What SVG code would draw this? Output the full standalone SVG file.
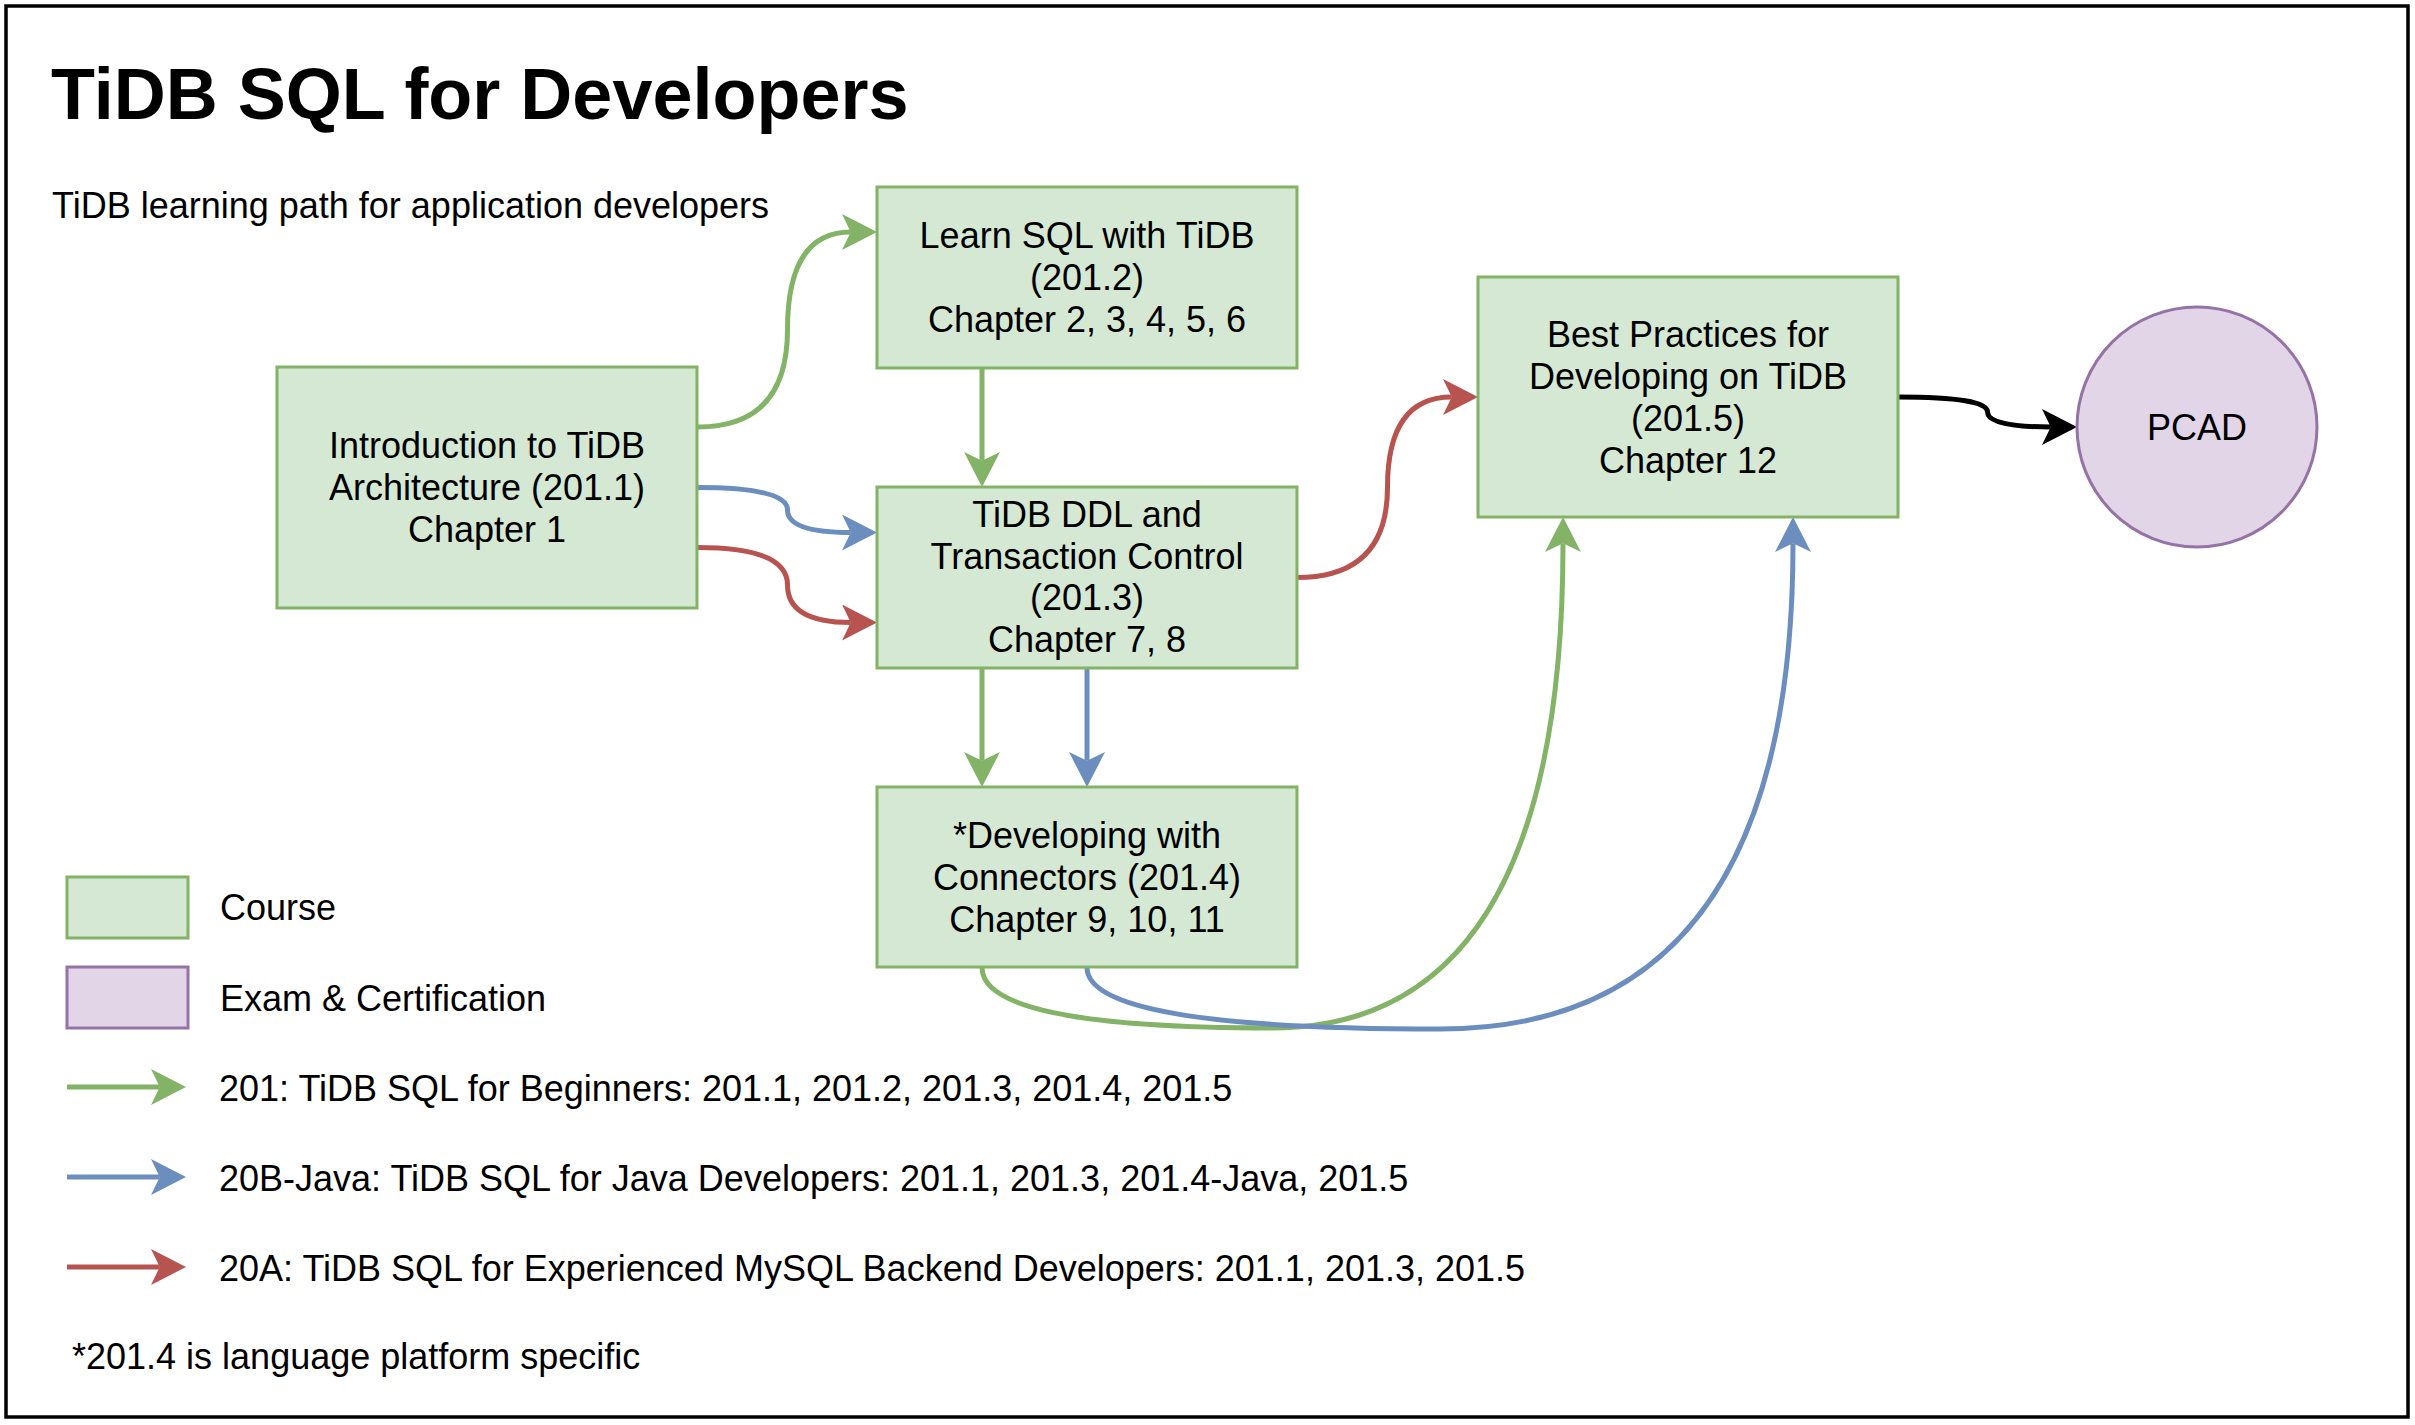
<svg xmlns="http://www.w3.org/2000/svg" width="2415" height="1425" viewBox="0 0 2415 1425">
  <style>
    text { font-family: "Liberation Sans", Arial, Helvetica, sans-serif; fill: #000; }
    .title { font-size: 72px; font-weight: bold; }
    .t36 { font-size: 36px; }
    .lbl { font-size: 36px; text-anchor: middle; }
    .course { fill: #d5e8d4; stroke: #82b366; stroke-width: 3; }
    .exam { fill: #e1d5e7; stroke: #9673a6; stroke-width: 3; }
    .edge { fill: none; stroke-width: 5; }
    .g { stroke: #82b366; }
    .b { stroke: #6c8ebf; }
    .r { stroke: #b85450; }
    .k { stroke: #000000; }
  </style>
  <defs>
    <marker id="ag" markerUnits="userSpaceOnUse" markerWidth="36" markerHeight="36" viewBox="0 0 35 36" refX="8.75" refY="18" orient="auto">
      <path d="M35,18 L0,0 L8.75,18 L0,36 Z" fill="#82b366"/>
    </marker>
    <marker id="ab" markerUnits="userSpaceOnUse" markerWidth="36" markerHeight="36" viewBox="0 0 35 36" refX="8.75" refY="18" orient="auto">
      <path d="M35,18 L0,0 L8.75,18 L0,36 Z" fill="#6c8ebf"/>
    </marker>
    <marker id="ar" markerUnits="userSpaceOnUse" markerWidth="36" markerHeight="36" viewBox="0 0 35 36" refX="8.75" refY="18" orient="auto">
      <path d="M35,18 L0,0 L8.75,18 L0,36 Z" fill="#b85450"/>
    </marker>
    <marker id="ak" markerUnits="userSpaceOnUse" markerWidth="36" markerHeight="36" viewBox="0 0 35 36" refX="8.75" refY="18" orient="auto">
      <path d="M35,18 L0,0 L8.75,18 L0,36 Z" fill="#000000"/>
    </marker>
  </defs>

  <rect x="0" y="0" width="2415" height="1425" fill="#ffffff"/>
  <rect id="frame" x="6" y="6" width="2402" height="1411" fill="#ffffff" stroke="#000000" stroke-width="3.5"/>

  <text class="title" x="51" y="119">TiDB SQL for Developers</text>
  <text class="t36" x="52" y="218">TiDB learning path for application developers</text>

  <g id="connectors">
    <path class="edge g" d="M698,427 Q787.5,427 787.5,329.5 Q787.5,232 850.75,232" marker-end="url(#ag)"/>
    <path class="edge b" d="M698,487.5 Q787.5,487.5 787.5,510 Q787.5,532.5 850.75,532.5" marker-end="url(#ab)"/>
    <path class="edge r" d="M698,547.5 Q787.5,547.5 787.5,585 Q787.5,622.5 850.75,622.5" marker-end="url(#ar)"/>
    <path class="edge g" d="M982,368 L982,460.75" marker-end="url(#ag)"/>
    <path class="edge g" d="M982,668 L982,760.75" marker-end="url(#ag)"/>
    <path class="edge b" d="M1087,668 L1087,760.75" marker-end="url(#ab)"/>
    <path class="edge r" d="M1297,577.5 Q1387.5,577.5 1387.5,487.25 Q1387.5,397 1451.75,397" marker-end="url(#ar)"/>
    <path class="edge g" d="M982,967.5 Q982,1028 1272.5,1028 Q1563,1028 1563,543.25" marker-end="url(#ag)"/>
    <path class="edge b" d="M1087,967.5 Q1087,1029 1440,1029 Q1793,1029 1793,543.25" marker-end="url(#ab)"/>
    <path class="edge k" d="M1898,397 Q1987.5,397 1987.5,412 Q1987.5,427 2050.75,427" marker-end="url(#ak)"/>
  </g>

  <g id="node-intro">
    <rect class="course" x="277" y="367" width="420" height="241"/>
    <text class="lbl" x="487" y="458">Introduction to TiDB</text>
    <text class="lbl" x="487" y="500">Architecture (201.1)</text>
    <text class="lbl" x="487" y="542">Chapter 1</text>
  </g>
  <g id="node-learn">
    <rect class="course" x="877" y="187" width="420" height="181"/>
    <text class="lbl" x="1087" y="248">Learn SQL with TiDB</text>
    <text class="lbl" x="1087" y="290">(201.2)</text>
    <text class="lbl" x="1087" y="332">Chapter 2, 3, 4, 5, 6</text>
  </g>
  <g id="node-ddl">
    <rect class="course" x="877" y="487" width="420" height="181"/>
    <text class="lbl" x="1087" y="527">TiDB DDL and</text>
    <text class="lbl" x="1087" y="568.5">Transaction Control</text>
    <text class="lbl" x="1087" y="610">(201.3)</text>
    <text class="lbl" x="1087" y="651.5">Chapter 7, 8</text>
  </g>
  <g id="node-connectors">
    <rect class="course" x="877" y="787" width="420" height="180"/>
    <text class="lbl" x="1087" y="848">*Developing with</text>
    <text class="lbl" x="1087" y="890">Connectors (201.4)</text>
    <text class="lbl" x="1087" y="931.5">Chapter 9, 10, 11</text>
  </g>
  <g id="node-best">
    <rect class="course" x="1478" y="277" width="420" height="240"/>
    <text class="lbl" x="1688" y="347">Best Practices for</text>
    <text class="lbl" x="1688" y="388.5">Developing on TiDB</text>
    <text class="lbl" x="1688" y="430.5">(201.5)</text>
    <text class="lbl" x="1688" y="472.5">Chapter 12</text>
  </g>
  <g id="node-pcad">
    <circle class="exam" cx="2197" cy="427" r="120"/>
    <text class="lbl" x="2197" y="439.5">PCAD</text>
  </g>

  <g id="legend">
    <rect class="course" x="67" y="877" width="121" height="61"/>
    <text class="t36" x="220" y="920">Course</text>
    <rect class="exam" x="67" y="967" width="121" height="61"/>
    <text class="t36" x="220" y="1010.5">Exam &amp; Certification</text>
    <path class="edge g" d="M67,1087 L159.75,1087" marker-end="url(#ag)"/>
    <text class="t36" x="219" y="1100.5">201: TiDB SQL for Beginners: 201.1, 201.2, 201.3, 201.4, 201.5</text>
    <path class="edge b" d="M67,1177 L159.75,1177" marker-end="url(#ab)"/>
    <text class="t36" x="219" y="1190.5">20B-Java: TiDB SQL for Java Developers: 201.1, 201.3, 201.4-Java, 201.5</text>
    <path class="edge r" d="M67,1267 L159.75,1267" marker-end="url(#ar)"/>
    <text class="t36" x="219" y="1280.5">20A: TiDB SQL for Experienced MySQL Backend Developers: 201.1, 201.3, 201.5</text>
    <text class="t36" x="72" y="1369">*201.4 is language platform specific</text>
  </g>
</svg>
